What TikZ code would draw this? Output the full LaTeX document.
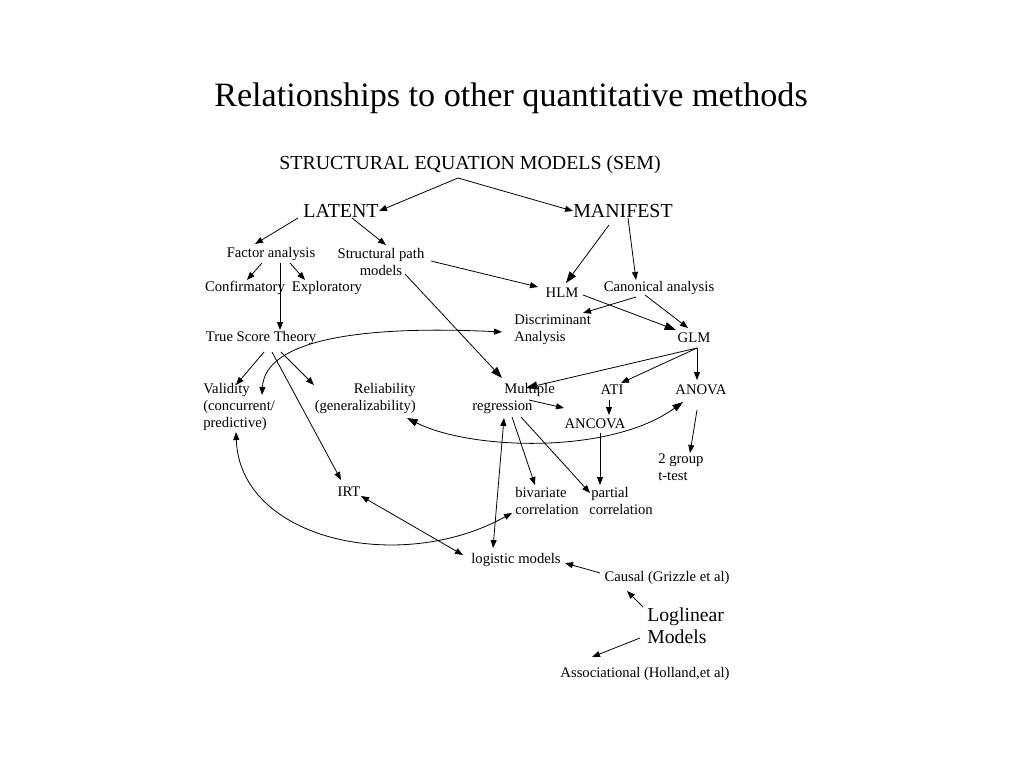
\documentclass[tikz,border=0pt]{standalone}
\usepackage{fontspec}
\setmainfont{Liberation Serif}
\usetikzlibrary{arrows.meta,calc}
\begin{document}
\begin{tikzpicture}[x=0.75pt,y=-0.75pt,
 lbl/.style={inner sep=0pt, font=\fontsize{11}{12.6}\selectfont},
 big/.style={inner sep=0pt, font=\fontsize{14.9}{16.5}\selectfont},
 arr/.style={line width=0.6pt, -{Triangle[length=6pt,width=4.5pt]}},
 barr/.style={line width=0.6pt, -{Triangle[length=8.5pt,width=6pt]}},
 darr/.style={line width=0.6pt, {Triangle[length=6pt,width=4.5pt]}-{Triangle[length=6pt,width=4.5pt]}},
 dbarr/.style={line width=0.6pt, {Triangle[length=8pt,width=5.5pt]}-{Triangle[length=8pt,width=5.5pt]}},
]
\fill[white] (0,0) rectangle (1024,768);
\useasboundingbox (0,0) rectangle (1024,768);

\node[inner sep=0pt, font=\fontsize{25.6}{30}\selectfont] (title) at (511,98.5) {Relationships to other quantitative methods};

\node[big] (sem) at (470,165) {STRUCTURAL EQUATION MODELS (SEM)};
\node[big] (latent) at (341,211) {LATENT};
\node[big] (manifest) at (623,211) {MANIFEST};

\node[lbl] (fa) at (271,254) {Factor analysis};
\node[lbl, align=center] (sp) at (381,262) {Structural path\\models};
\node[lbl] (conf) at (245,288) {Confirmatory};
\node[lbl] (expl) at (327,288) {Exploratory};
\node[lbl] (hlm) at (562,292.5) {HLM};
\node[lbl] (canon) at (659,288) {Canonical analysis};
\node[lbl, align=left, anchor=west] (disc) at (514,330) {Discriminant\\Analysis};
\node[lbl] (tst) at (261,338) {True Score Theory};
\node[lbl] (glm) at (694,338) {GLM};

\node[lbl, align=left, anchor=west] (valid) at (203,407) {Validity\\(concurrent/\\predictive)};
\node[lbl, align=right, anchor=east] (rel) at (416,398.5) {Reliability\\(generalizability)};
\node[lbl, align=left, anchor=west] (mr) at (472,398.5) {\hspace*{24pt}Multiple\\regression};
\node[lbl] (ati) at (612,390) {ATI};
\node[lbl] (anova) at (701,390) {ANOVA};
\node[lbl] (ancova) at (595,424) {ANCOVA};
\node[lbl, align=left, anchor=west] (ttest) at (658,467) {2 group\\t-test};
\node[lbl] (irt) at (349,492) {IRT};
\node[lbl, align=left, anchor=west] (biv) at (515,501) {bivariate\\correlation};
\node[lbl, align=left, anchor=west] (part) at (589,501) {\hspace*{1.5pt}partial\\correlation};
\node[lbl] (logit) at (516,560) {logistic models};
\node[lbl] (causal) at (667,578) {Causal (Grizzle et al)};
\node[inner sep=0pt, font=\fontsize{14.8}{16.5}\selectfont, align=left, anchor=west] (loglin) at (647,626) {Loglinear\\Models};
\node[lbl] (assoc) at (645,674) {Associational (Holland,et al)};

% connectors
\draw[arr] ($(sem)+(-12,13)$) -- ($(latent)+(38,0)$);
\draw[arr] ($(sem)+(-12,13)$) -- ($(manifest)+(-50,0)$);
\draw[arr] ($(latent)+(-43,7)$) -- ($(fa)+(-16,-10)$);
\draw[arr] ($(latent)+(11,7)$) -- ($(sp)+(5,-17)$);
\draw[barr] ($(manifest)+(-14,14)$) -- ($(hlm)+(4,-9.5)$);
\draw[arr] ($(manifest)+(5,7)$) -- ($(canon)+(-23,-8)$);
\draw[arr] ($(fa)+(-9,9)$) -- ($(conf)+(2,-8)$);
\draw[arr] ($(fa)+(19,9)$) -- ($(expl)+(-22,-8)$);
\draw[arr] ($(fa)+(9,9)$) -- ($(tst)+(19,-8)$);
\draw[arr] ($(sp)+(50,-1)$) -- ($(hlm)+(-24,-5.5)$);
\draw[barr] ($(sp)+(24,12)$) -- ($(mr.west)+(30,-20.5)$);
\draw[barr] ($(hlm)+(21,2.5)$) -- ($(glm)+(-18,-8)$);
\draw[arr] ($(canon)+(-23,9)$) -- ($(disc.west)+(69,-17)$);
\draw[arr] ($(canon)+(-14,7)$) -- ($(glm)+(-6,-10)$);
\draw[darr] ($(valid.west)+(59,-12)$) .. controls ($(valid.west)+(62,-67)$) and ($(disc.west)+(-154,-5)$) .. ($(disc.west)+(-12,2)$);
\draw[arr] ($(tst)+(3,14)$) -- ($(valid.west)+(33,-22)$);
\draw[arr] ($(tst)+(11,14)$) -- ($(irt)+(-8,-12)$);
\draw[arr] ($(tst)+(20,14)$) -- ($(rel.east)+(-102,-13.5)$);
\draw[barr] ($(glm)+(3,10)$) -- ($(mr.west)+(54,-10.5)$);
\draw[arr] ($(glm)+(3,10)$) -- ($(ati)+(9,-7)$);
\draw[arr] ($(glm)+(3,10)$) -- ($(anova)+(-4,-10)$);
\draw[arr] ($(mr.west)+(57,1.5)$) -- ($(ancova)+(-31,-16)$);
\draw[arr] ($(ati)+(-3,10)$) -- ($(ancova)+(14,-9)$);
\draw[dbarr] ($(rel.east)+(-9,19.5)$) .. controls ($(rel.east)+(54,51.5)$) and ($(anova)+(-91,65)$) .. ($(anova)+(-18,12)$);
\draw[arr] ($(ancova)+(5,9)$) -- ($(part.west)+(11,-16)$);
\draw[arr] ($(mr.west)+(40,18.5)$) -- ($(biv.west)+(20,-16)$);
\draw[arr] ($(mr.west)+(49,18.5)$) -- ($(part.west)+(1,-8)$);
\draw[arr] ($(anova)+(-4,20)$) -- ($(ttest.west)+(32,-14)$);
\draw[darr] ($(valid.west)+(33,25)$) .. controls ($(valid.west)+(37,133)$) and ($(biv.west)+(-115,74)$) .. ($(biv.west)+(-3,12)$);
\draw[darr] ($(irt)+(12,4)$) -- ($(logit)+(-53,-5)$);
\draw[darr] ($(mr.west)+(32,19.5)$) -- ($(logit)+(-23,-12)$);
\draw[arr] ($(causal)+(-67,-5)$) -- ($(logit)+(49,3)$);
\draw[arr] ($(loglin.west)+(-4,-19)$) -- ($(causal)+(-40,13)$);
\draw[arr] ($(loglin.west)+(-7,12)$) -- ($(assoc)+(-53,-17)$);
\end{tikzpicture}
\end{document}
